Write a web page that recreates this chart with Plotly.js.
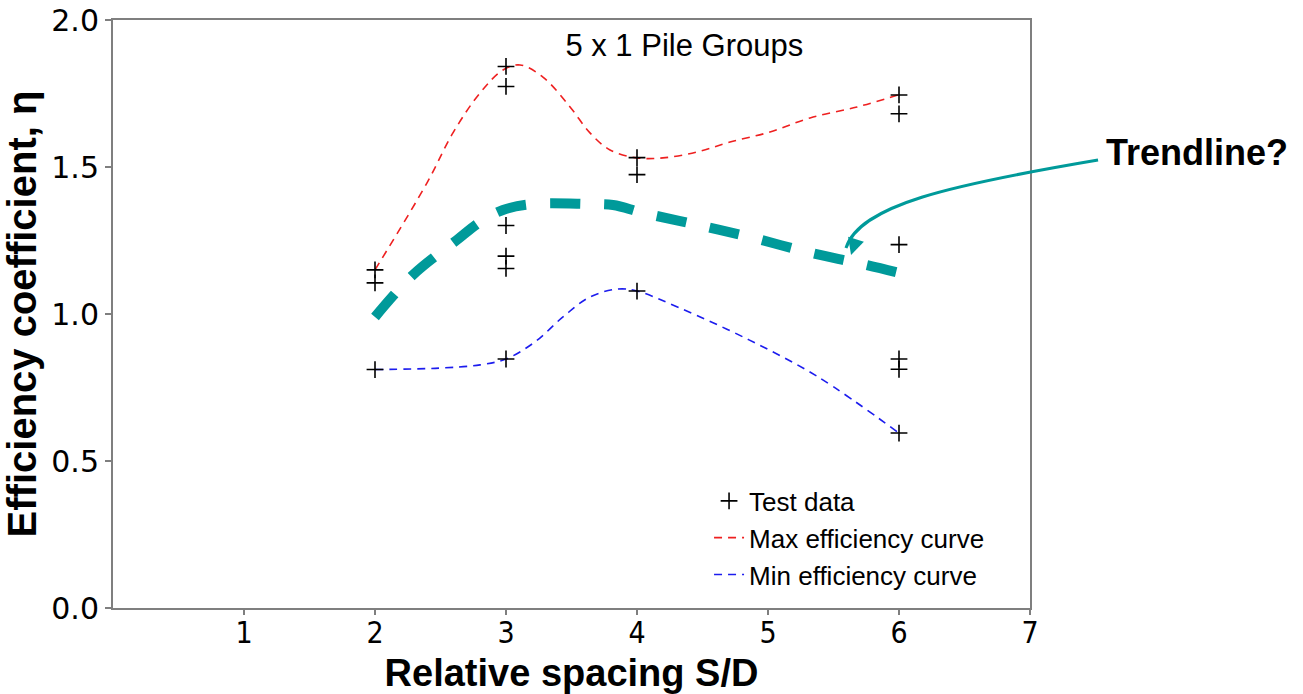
<!DOCTYPE html>
<html>
<head>
<meta charset="utf-8">
<script src="https://cdn.plot.ly/plotly-3.0.1.min.js"></script>
<style>html,body{margin:0;padding:0;background:#fff;}#chart{width:1303px;height:694px;}</style>
</head>
<body>
<div id="chart"></div>
<script>
// Test data
const testX = [2, 2, 2, 3, 3, 3, 3, 3, 3, 4, 4, 4, 6, 6, 6, 6, 6, 6];
const testY = [1.150, 1.106, 0.811, 1.842, 1.774, 1.301, 1.197, 1.155, 0.847, 1.532, 1.474, 1.078, 1.745, 1.681, 1.236, 0.847, 0.812, 0.595];

// Max efficiency curve
const maxX = [2.0, 2.397, 2.595, 2.802, 2.977, 3.107, 3.282, 3.489, 3.641, 3.794, 4.0, 4.198, 4.458, 4.710, 5.015, 5.321, 5.679, 5.992];
const maxY = [1.150, 1.446, 1.616, 1.752, 1.830, 1.847, 1.806, 1.704, 1.616, 1.558, 1.531, 1.531, 1.551, 1.585, 1.619, 1.667, 1.704, 1.745];

// Min efficiency curve
const minX = [2.0, 2.489, 2.802, 3.0, 3.221, 3.435, 3.641, 3.855, 4.0, 4.328, 4.855, 5.382, 6.0];
const minY = [0.811, 0.816, 0.827, 0.847, 0.905, 0.990, 1.058, 1.085, 1.078, 1.020, 0.912, 0.786, 0.595];

// Trendline
const trendX = [2.0, 2.29, 2.626, 2.802, 2.977, 3.206, 3.626, 3.817, 4.046, 4.466, 4.885, 5.298, 5.718, 6.008];
const trendY = [0.990, 1.133, 1.252, 1.313, 1.354, 1.374, 1.374, 1.371, 1.344, 1.303, 1.259, 1.211, 1.170, 1.139];

const xTicks = [1, 2, 3, 4, 5, 6, 7];
const yTicks = [0, 0.5, 1.0, 1.5, 2.0];

const teal = '#009a9a';
const axisGray = '#7f7f7f';

const traces = [
  {
    x: maxX, y: maxY, type: 'scatter', mode: 'lines', name: 'Max efficiency curve',
    line: {color: '#ee2020', width: 1.6, dash: '8px,6px', shape: 'spline', smoothing: 1},
    legendrank: 2, hoverinfo: 'skip'
  },
  {
    x: minX, y: minY, type: 'scatter', mode: 'lines', name: 'Min efficiency curve',
    line: {color: '#1c1cee', width: 1.6, dash: '8px,6px', shape: 'spline', smoothing: 1},
    legendrank: 3, hoverinfo: 'skip'
  },
  {
    x: trendX, y: trendY, type: 'scatter', mode: 'lines', name: 'Trendline',
    line: {color: teal, width: 10, dash: '30px,24px', shape: 'spline', smoothing: 1},
    showlegend: false, hoverinfo: 'skip'
  },
  {
    x: testX, y: testY, type: 'scatter', mode: 'markers', name: 'Test data',
    marker: {symbol: 'cross-thin', size: 12, color: '#000', line: {color: '#000', width: 1.6}},
    legendrank: 1
  }
];

const layout = {
  width: 1303, height: 694, autosize: false,
  margin: {l: 113, r: 273, t: 20, b: 86, pad: 0},
  paper_bgcolor: '#fff', plot_bgcolor: '#fff',
  font: {family: 'Liberation Sans, Arial, sans-serif', color: '#000'},
  title: {
    text: '5 x 1 Pile Groups', xref: 'paper', x: 0.623, xanchor: 'center',
    yref: 'container', y: 0.935, yanchor: 'middle',
    font: {family: 'Liberation Sans, Arial, sans-serif', size: 31, color: '#000'}
  },
  xaxis: {
    range: [0, 7], tickvals: xTicks, ticktext: xTicks.map(String),
    showline: true, linecolor: axisGray, linewidth: 2, mirror: true,
    ticks: 'outside', ticklen: 5, tickcolor: axisGray, tickwidth: 1.5,
    ticklabelstandoff: -8,
    showgrid: false, zeroline: false,
    tickfont: {family: 'Liberation Sans Narrow, DejaVu Sans Condensed, sans-serif', size: 30, color: '#000'},
    title: {text: 'Relative spacing S/D', standoff: 12,
      font: {family: 'Liberation Sans, Arial, sans-serif', size: 38, color: '#000', weight: 'bold'}}
  },
  yaxis: {
    range: [0, 2], tickvals: yTicks, tickformat: '.1f',
    showline: true, linecolor: axisGray, linewidth: 2, mirror: true,
    ticks: 'outside', ticklen: 6, tickcolor: axisGray, tickwidth: 1.5,
    showgrid: false, zeroline: false,
    tickfont: {family: 'DejaVu Sans, sans-serif', size: 30, color: '#000'},
    title: {text: 'Efficiency coefficient, η', standoff: 4,
      font: {family: 'Liberation Sans, Arial, sans-serif', size: 40, color: '#000', weight: 'bold'}}
  },
  showlegend: true,
  legend: {
    x: 0.65, y: 0.222, xanchor: 'left', yanchor: 'top',
    bgcolor: 'rgba(0,0,0,0)', borderwidth: 0,
    font: {family: 'Liberation Sans, Arial, sans-serif', size: 26, color: '#000'},
    tracegroupgap: 0
  },
  shapes: [
    {
      type: 'path', xref: 'paper', yref: 'paper', layer: 'above',
      path: 'M 1.0742,0.7619 C 0.9128,0.7194 0.8146,0.6854 0.7993,0.6122',
      line: {color: teal, width: 3}
    }
  ],
  annotations: [
    {
      text: 'Trendline?', xref: 'paper', yref: 'paper', x: 1.182, y: 0.774,
      xanchor: 'center', yanchor: 'middle', showarrow: false,
      font: {family: 'Liberation Sans, Arial, sans-serif', size: 36, color: '#000', weight: 'bold'}
    },
    {
      text: '', xref: 'x', yref: 'y', x: 5.634, y: 1.2007,
      showarrow: true, ax: 5, ay: -16, axref: 'pixel', ayref: 'pixel',
      arrowhead: 2, arrowsize: 1.1, arrowwidth: 3, arrowcolor: teal, standoff: 0
    }
  ]
};

Plotly.newPlot('chart', traces, layout, {displayModeBar: false, staticPlot: true});
</script>
</body>
</html>
